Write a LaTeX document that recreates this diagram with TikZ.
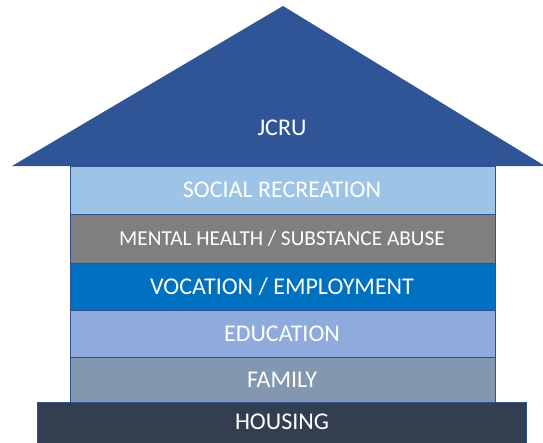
\documentclass[tikz,border=0pt]{standalone}
\usepackage{fontspec}
\setmainfont{Carlito}
\definecolor{roofc}{HTML}{2F5597}
\definecolor{socialc}{HTML}{9DC3E6}
\definecolor{mentalc}{HTML}{7F7F7F}
\definecolor{vocc}{HTML}{0070C0}
\definecolor{educ}{HTML}{8FAADC}
\definecolor{famc}{HTML}{8497B0}
\definecolor{housc}{HTML}{333F50}
\definecolor{edgec}{HTML}{2F528F}
\begin{document}
\begin{tikzpicture}[x=1pt,y=-1pt,
  layer/.style={draw=edgec, line width=1pt},
  lbl/.style={text=white, font=\fontsize{24}{26}\selectfont, anchor=center, inner sep=0pt}]
\useasboundingbox (0,0) rectangle (543,442);
\fill[white] (0,0) rectangle (543,442);
% layers
\filldraw[layer, fill=socialc] (70,166) rectangle (495,214);
\filldraw[layer, fill=mentalc] (70,214) rectangle (495,263);
\filldraw[layer, fill=vocc] (70,263) rectangle (495,310);
\filldraw[layer, fill=educ] (70,310) rectangle (495,357);
\filldraw[layer, fill=famc] (70,357) rectangle (495,402);
\filldraw[layer, fill=housc] (37,402) rectangle (526,443);
% roof
\fill[roofc] (12,166) -- (283,6) -- (545,166) -- cycle;
\node[lbl] (jcru) at (282,128) {JCRU};
\node[lbl] (social) at (282,190) {SOCIAL RECREATION};
\node[lbl, font=\fontsize{21.3}{23}\selectfont] (mental) at (282,239) {MENTAL HEALTH / SUBSTANCE ABUSE};
\node[lbl] (voc) at (282,287) {VOCATION / EMPLOYMENT};
\node[lbl] (edu) at (282,334) {EDUCATION};
\node[lbl] (fam) at (282,380) {FAMILY};
\node[lbl] (hous) at (282,422) {HOUSING};
\end{tikzpicture}
\end{document}
